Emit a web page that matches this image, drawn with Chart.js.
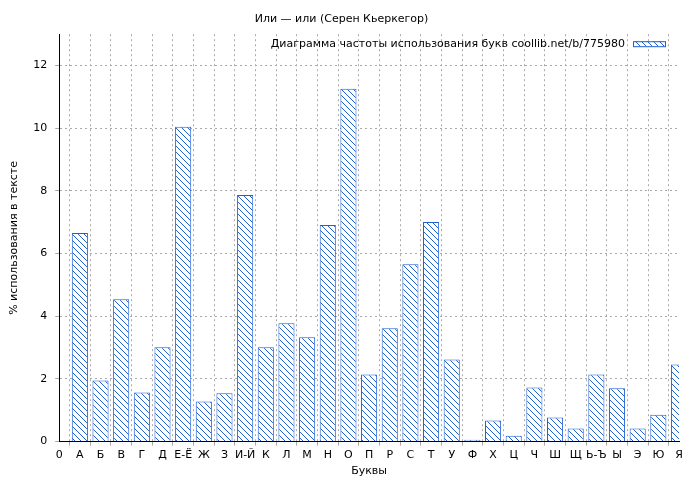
<!DOCTYPE html>
<html>
<head>
<meta charset="utf-8">
<script src="https://cdn.jsdelivr.net/npm/chart.js@4"></script>
<style>
body { margin: 0; background: #fff; }
#wrap { width: 700px; height: 480px; }
</style>
</head>
<body>
<div id="wrap"><canvas id="chart" width="700" height="480"></canvas></div>
<script>
var letters = ['0','А','Б','В','Г','Д','Е-Ё','Ж','З','И-Й','К','Л','М','Н','О','П','Р','С','Т','У','Ф','Х','Ц','Ч','Ш','Щ','Ь-Ъ','Ы','Э','Ю','Я'];
var values = [6.66,1.95,4.54,1.57,3.01,10.05,1.28,1.54,7.87,3.01,3.78,3.33,6.91,11.26,2.14,3.62,5.66,7.01,2.62,0.06,0.67,0.19,1.73,0.77,0.42,2.14,1.70,0.42,0.86,2.46];
var yTicks = [0,2,4,6,8,10,12];
var seriesName = 'Диаграмма частоты использования букв coollib.net/b/775980';

function hatch() {
    var c = document.createElement('canvas');
    c.width = 6; c.height = 6;
    var g = c.getContext('2d');
    g.fillStyle = '#fff';
    g.fillRect(0,0,6,6);
    g.strokeStyle = '#1f5fcf';
    g.lineWidth = 1;
    g.beginPath();
    g.moveTo(0,0); g.lineTo(6,6);
    g.moveTo(-3,3); g.lineTo(3,9);
    g.moveTo(3,-3); g.lineTo(9,3);
    g.stroke();
    return g.createPattern(c, 'repeat');
}

var pattern = hatch();
var points = values.map((v, i) => ({ x: i + 1, y: v }));
var font = { family: 'DejaVu Sans', size: 11, weight: 'normal' };

// legend drawn inside the plot, top right
var insideLegend = {
    id: 'insideLegend',
    afterDraw(chart) {
        var ctx = chart.ctx, a = chart.chartArea;
        ctx.save();
        ctx.font = '11px "DejaVu Sans"';
        ctx.fillStyle = '#000';
        ctx.textAlign = 'right';
        ctx.textBaseline = 'middle';
        var bx = a.right - 46, by = a.top + 7;
        ctx.fillStyle = pattern;
        ctx.fillRect(bx, by, 32, 5);
        ctx.strokeStyle = '#1f5fcf';
        ctx.strokeRect(bx + 0.5, by + 0.5, 32, 5);
        ctx.fillStyle = '#000';
        ctx.fillText(seriesName, bx - 8, by + 3);
        ctx.restore();
    }
};

new Chart(document.getElementById('chart'), {
    type: 'bar',
    data: {
        datasets: [{
            label: seriesName,
            data: points,
            backgroundColor: pattern,
            borderColor: '#1f5fcf',
            borderWidth: 1,
            barPercentage: 0.78,
            categoryPercentage: 1
        }]
    },
    options: {
        responsive: false,
        animation: false,
        layout: { padding: { left: 4, right: 21, top: 3, bottom: 2 } },
        plugins: {
            title: { display: true, text: 'Или — или (Серен Кьеркегор)', color: '#000', font: font, padding: { top: 10, bottom: 8 } },
            legend: { display: false },
            tooltip: { enabled: false }
        },
        scales: {
            x: {
                type: 'linear', min: 0, max: 30, offset: false,
                grid: { color: '#aaa', tickLength: 4 },
                border: { color: '#000', dash: [2, 3] },
                ticks: { stepSize: 1, autoSkip: false, maxRotation: 0, color: '#000', font: font,
                    callback: v => letters[v] },
                title: { display: true, text: 'Буквы', color: '#000', font: font, padding: 0 }
            },
            y: {
                min: 0, max: 13,
                grid: { color: '#aaa', tickLength: 4 },
                border: { color: '#000', dash: [2, 3] },
                afterBuildTicks: s => { s.ticks = yTicks.map(v => ({ value: v })); },
                ticks: { color: '#000', font: font, padding: 8 },
                title: { display: true, text: '% использования в тексте', color: '#000', font: font }
            }
        }
    },
    plugins: [insideLegend]
});
</script>
</body>
</html>
